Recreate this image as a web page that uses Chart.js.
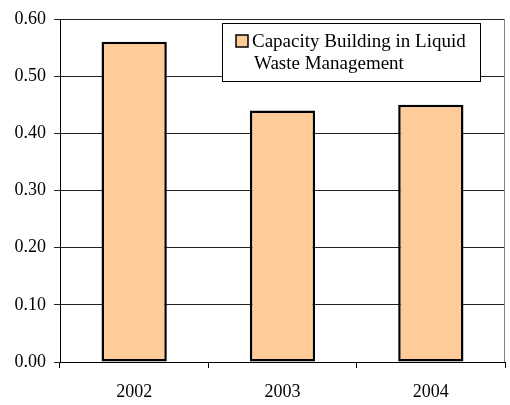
<!DOCTYPE html>
<html>
<head>
<meta charset="utf-8">
<script src="https://cdn.jsdelivr.net/npm/chart.js@4/dist/chart.umd.min.js"></script>
<style>
html,body{margin:0;padding:0;background:#fff;}
#wrap{width:510px;height:405px;}
</style>
</head>
<body>
<div id="wrap"><canvas id="c" width="510" height="405"></canvas></div>
<script>
const categories = ["2002", "2003", "2004"];
const values = [0.56, 0.44, 0.45];
const seriesLabel = ["Capacity Building in Liquid", "Waste Management"];
const yTicks = [0, 0.1, 0.2, 0.3, 0.4, 0.5, 0.6];

const FONT = "'Liberation Serif', 'Times New Roman', serif";

const extras = {
  id: 'extras',
  afterDraw(chart) {
    const ctx = chart.ctx, a = chart.chartArea;
    ctx.save();
    // right border
    ctx.strokeStyle = '#808080';
    ctx.lineWidth = 1;
    ctx.beginPath();
    ctx.moveTo(Math.round(a.right) - 0.5, a.top);
    ctx.lineTo(Math.round(a.right) - 0.5, a.bottom);
    ctx.stroke();
    // legend box
    const bx = 222.5, by = 23.5, bw = 258, bh = 58;
    ctx.fillStyle = '#fff';
    ctx.fillRect(bx, by, bw, bh);
    ctx.strokeStyle = '#000';
    ctx.lineWidth = 1;
    ctx.strokeRect(bx, by, bw, bh);
    const ds = chart.data.datasets[0];
    ctx.fillStyle = ds.backgroundColor;
    ctx.fillRect(236, 35, 12, 12);
    ctx.lineWidth = 1.5;
    ctx.strokeStyle = '#000';
    ctx.strokeRect(236, 35, 12, 12);
    ctx.fillStyle = '#000';
    ctx.font = '19px ' + FONT;
    ctx.textBaseline = 'alphabetic';
    ctx.textAlign = 'left';
    const lines = ds.label;
    ctx.fillText(lines[0], 252, 47);
    ctx.fillText(lines[1], 254, 69);
    ctx.restore();
  }
};

new Chart(document.getElementById('c'), {
  type: 'bar',
  data: {
    labels: categories,
    datasets: [{
      label: seriesLabel,
      data: values,
      backgroundColor: '#FFCC99',
      borderColor: '#000',
      borderWidth: 2.5,
      borderSkipped: false,
      barPercentage: 0.44,
      categoryPercentage: 1.0
    }]
  },
  options: {
    responsive: false,
    animation: false,
    devicePixelRatio: 1,
    layout: { padding: { top: 19, right: 5, left: 0, bottom: 0 } },
    plugins: { legend: { display: false }, tooltip: { enabled: false } },
    scales: {
      x: {
        offset: true,
        grid: { offset: true, drawOnChartArea: false, drawTicks: true, tickLength: 6, color: '#000' },
        border: { display: true, color: '#000', width: 1 },
        ticks: { color: '#000', font: { family: FONT, size: 18 }, padding: 13, maxRotation: 0 },
        afterFit(s) { s.height = 43; }
      },
      y: {
        min: 0, max: 0.6,
        afterBuildTicks(s) { s.ticks = yTicks.map(v => ({ value: v })); },
        grid: { color: '#222', tickLength: 6, drawTicks: true },
        border: { display: true, color: '#000', width: 1 },
        ticks: { color: '#000', font: { family: FONT, size: 18 }, padding: 8, callback: v => Number(v).toFixed(2) },
        afterFit(s) { s.width = 60; }
      }
    }
  },
  plugins: [extras]
});
</script>
</body>
</html>
